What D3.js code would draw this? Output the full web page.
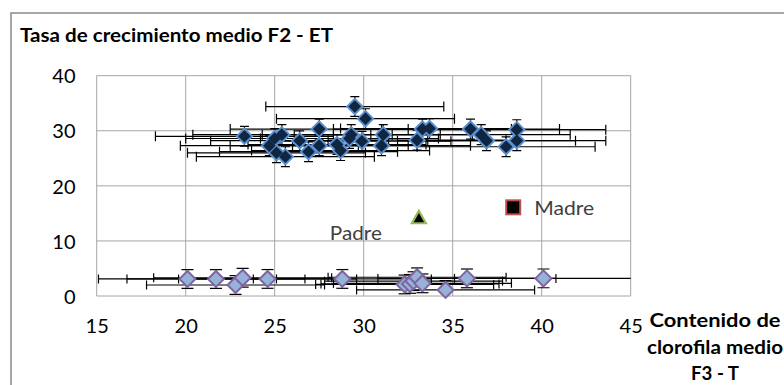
<!DOCTYPE html>
<html>
<head>
<meta charset="utf-8">
<script src="https://cdn.jsdelivr.net/npm/d3@7"></script>
<style>
  html, body { margin: 0; padding: 0; background: #fff; }
  svg { display: block; }
</style>
</head>
<body>
<svg id="chart" width="784" height="385"></svg>
<script>
// F2 means: chlorophyll content (x) vs growth rate (y)
const f2X = [23.3, 24.7, 25.0, 25.1, 25.4, 25.6, 26.4, 26.9, 27.5, 27.5, 28.5, 28.7, 29.2, 29.3,
             29.5, 29.9, 30.1, 31.0, 31.1, 33.0, 33.3, 33.7, 36.0, 36.6, 36.9, 38.0, 38.6, 38.6];
const f2Y = [29.0, 27.3, 28.6, 26.0, 29.3, 25.3, 28.2, 26.2, 27.3, 30.3, 27.5, 26.4, 28.6, 29.3,
             34.4, 28.1, 32.2, 27.3, 29.3, 28.3, 30.3, 30.4, 30.3, 29.3, 28.2, 27.1, 30.2, 28.2];
const f2XErr = [5, 5, 5, 5, 5, 5, 5, 5, 5, 5, 5, 5, 5, 5, 5, 5, 5, 5, 5, 5, 5, 5, 5, 5, 5, 5, 5, 5];
const f2YErr = [1.8, 1.8, 1.8, 1.8, 1.8, 1.8, 1.8, 1.8, 1.8, 1.8, 1.8, 1.8, 1.8, 1.8,
                1.8, 1.8, 1.8, 1.8, 1.8, 1.8, 1.8, 1.8, 1.8, 1.8, 1.8, 1.8, 1.8, 1.8];

// Second group, low growth rate
const lowX = [20.1, 21.7, 22.8, 23.2, 24.6, 28.8, 32.3, 32.6, 32.8, 33.0, 33.3, 34.6, 35.8, 40.1];
const lowY = [3.1, 3.1, 2.0, 3.3, 3.1, 3.1, 2.1, 2.2, 2.7, 3.4, 2.3, 1.1, 3.2, 3.2];
const lowXErr = [5, 5, 5, 5, 5, 5, 5, 5, 5, 5, 5, 5, 5, 5];
const lowYErr = [1.7, 1.7, 1.7, 1.7, 1.7, 1.7, 1.7, 1.7, 1.7, 1.7, 1.7, 1.7, 1.7, 1.7];

// Parents
const parentNames = ["Padre", "Madre"];
const parentX = [33.1, 38.4];
const parentY = [14.3, 16.1];

// Axes
const xTicks = [15, 20, 25, 30, 35, 40, 45];
const yTicks = [0, 10, 20, 30, 40];
const titleText = "Tasa de crecimiento medio F2 - ET";
const xTitleLines = ["Contenido  de", "clorofila medio", "F3 - T"];

const svg = d3.select("#chart");
const FONT = "Lato, 'Liberation Sans', Arial, sans-serif";

const x = d3.scaleLinear().domain([15, 45]).range([96.7, 630.7]);
const y = d3.scaleLinear().domain([0, 40]).range([296, 75.7]);

// outer chart frame
svg.append("rect")
  .attr("x", 11).attr("y", 13).attr("width", 800).attr("height", 400)
  .attr("fill", "none").attr("stroke", "#8a8a8a").attr("stroke-width", 1.5);

// title
svg.append("text")
  .attr("x", 20).attr("y", 42.3)
  .attr("font-family", FONT).attr("font-weight", "bold").attr("font-size", 18)
  .attr("textLength", 313).attr("lengthAdjust", "spacingAndGlyphs")
  .attr("fill", "#000").text(titleText);

// gridlines
const grid = svg.append("g").attr("stroke", "#a6a6a6").attr("stroke-width", 1);
grid.selectAll("line.v").data(xTicks).join("line").attr("class", "v")
  .attr("x1", d => x(d)).attr("x2", d => x(d))
  .attr("y1", y(40)).attr("y2", y(0));
grid.selectAll("line.h").data(yTicks).join("line").attr("class", "h")
  .attr("x1", x(15)).attr("x2", x(45))
  .attr("y1", d => y(d)).attr("y2", d => y(d));

// axes (labels only; lines come from the grid)
const yAxis = d3.axisLeft(y).tickValues(yTicks).tickSize(0).tickPadding(0);
svg.append("g").attr("transform", `translate(75.5,0)`).call(yAxis)
  .call(g => g.select(".domain").remove())
  .call(g => g.selectAll("text").attr("font-family", FONT).attr("font-size", 20)
    .attr("fill", "#000").attr("dy", "0.36em"));

const xAxis = d3.axisBottom(x).tickValues(xTicks).tickSize(0).tickPadding(0);
svg.append("g").attr("transform", `translate(0,325.5)`).call(xAxis)
  .call(g => g.select(".domain").remove())
  .call(g => g.selectAll("text").attr("font-family", FONT).attr("font-size", 20)
    .attr("fill", "#000").attr("dy", "0.36em"));

// x axis title
const titleWidths = [131, 136, 48];
svg.append("g").selectAll("text").data(xTitleLines).join("text")
  .attr("x", (d, i) => 715 - titleWidths[i] / 2).attr("y", (d, i) => [326.7, 354, 380][i])
  .attr("textLength", (d, i) => titleWidths[i]).attr("lengthAdjust", "spacingAndGlyphs")
  .attr("font-family", FONT).attr("font-weight", "bold").attr("font-size", 19)
  .attr("fill", "#000").text(d => d);

// clip for error bars
const defs = svg.append("defs");
defs.append("clipPath").attr("id", "plotClip").append("rect")
  .attr("x", x(15)).attr("y", y(40)).attr("width", x(45) - x(15)).attr("height", y(0) - y(40));

// soft glow for the dark markers
defs.append("filter").attr("id", "soft").attr("x", "-50%").attr("y", "-50%")
  .attr("width", "200%").attr("height", "200%")
  .append("feGaussianBlur").attr("stdDeviation", 0.6);

function errorBars(xs, ys, xe, ye, capX, capY) {
  const g = svg.append("g").attr("clip-path", "url(#plotClip)")
    .attr("stroke", "#000").attr("stroke-width", 1.2).attr("fill", "none");
  xs.forEach((v, i) => {
    const cy = y(ys[i]);
    const x0 = x(v - xe[i]), x1 = x(v + xe[i]);
    g.append("line").attr("x1", x0).attr("x2", x1).attr("y1", cy).attr("y2", cy);
    g.append("line").attr("x1", x0).attr("x2", x0).attr("y1", cy - capY).attr("y2", cy + capY);
    g.append("line").attr("x1", x1).attr("x2", x1).attr("y1", cy - capY).attr("y2", cy + capY);
    const cx = x(v);
    const y0 = y(ys[i] - ye[i]), y1 = y(ys[i] + ye[i]);
    g.append("line").attr("x1", cx).attr("x2", cx).attr("y1", y0).attr("y2", y1);
    g.append("line").attr("x1", cx - capX).attr("x2", cx + capX).attr("y1", y0).attr("y2", y0);
    g.append("line").attr("x1", cx - capX).attr("x2", cx + capX).attr("y1", y1).attr("y2", y1);
  });
}

function diamond(r) {
  return `M0,${-r}L${r},0L0,${r}L${-r},0Z`;
}

// F2 group
errorBars(f2X, f2Y, f2XErr, f2YErr, 4.5, 5);
const f2Marks = svg.append("g");
f2Marks.selectAll("path.glow").data(f2X).join("path").attr("class", "glow")
  .attr("transform", (d, i) => `translate(${x(d)},${y(f2Y[i])})`)
  .attr("d", diamond(9)).attr("fill", "#5a8fd0").attr("filter", "url(#soft)");
f2Marks.selectAll("path.core").data(f2X).join("path").attr("class", "core")
  .attr("transform", (d, i) => `translate(${x(d)},${y(f2Y[i])})`)
  .attr("d", diamond(6.3)).attr("fill", "#10253f");

// low group
errorBars(lowX, lowY, lowXErr, lowYErr, 6, 4.5);
svg.append("g").selectAll("path").data(lowX).join("path")
  .attr("transform", (d, i) => `translate(${x(d)},${y(lowY[i])})`)
  .attr("d", diamond(8)).attr("fill", "#95b3d7")
  .attr("stroke", "#8064a2").attr("stroke-width", 2);

// Padre: triangle
svg.append("path")
  .attr("transform", `translate(${x(parentX[0])},${y(parentY[0])})`)
  .attr("d", "M0,-6.5L7,6L-7,6Z")
  .attr("fill", "#000").attr("stroke", "#9bbb59").attr("stroke-width", 2.2)
  .attr("stroke-linejoin", "miter");
svg.append("text")
  .attr("x", x(parentX[0]) - 89).attr("y", y(parentY[0]) + 23)
  .attr("textLength", 52).attr("lengthAdjust", "spacingAndGlyphs")
  .attr("font-family", FONT).attr("font-size", 20).attr("fill", "#404040")
  .text(parentNames[0]);

// Madre: square
svg.append("rect")
  .attr("x", x(parentX[1]) - 7).attr("y", y(parentY[1]) - 7)
  .attr("width", 14).attr("height", 14)
  .attr("fill", "#000").attr("stroke", "#c0504d").attr("stroke-width", 2);
svg.append("text")
  .attr("x", x(parentX[1]) + 21).attr("y", y(parentY[1]) + 7.5)
  .attr("textLength", 60).attr("lengthAdjust", "spacingAndGlyphs")
  .attr("font-family", FONT).attr("font-size", 20).attr("fill", "#404040")
  .text(parentNames[1]);
</script>
</body>
</html>
